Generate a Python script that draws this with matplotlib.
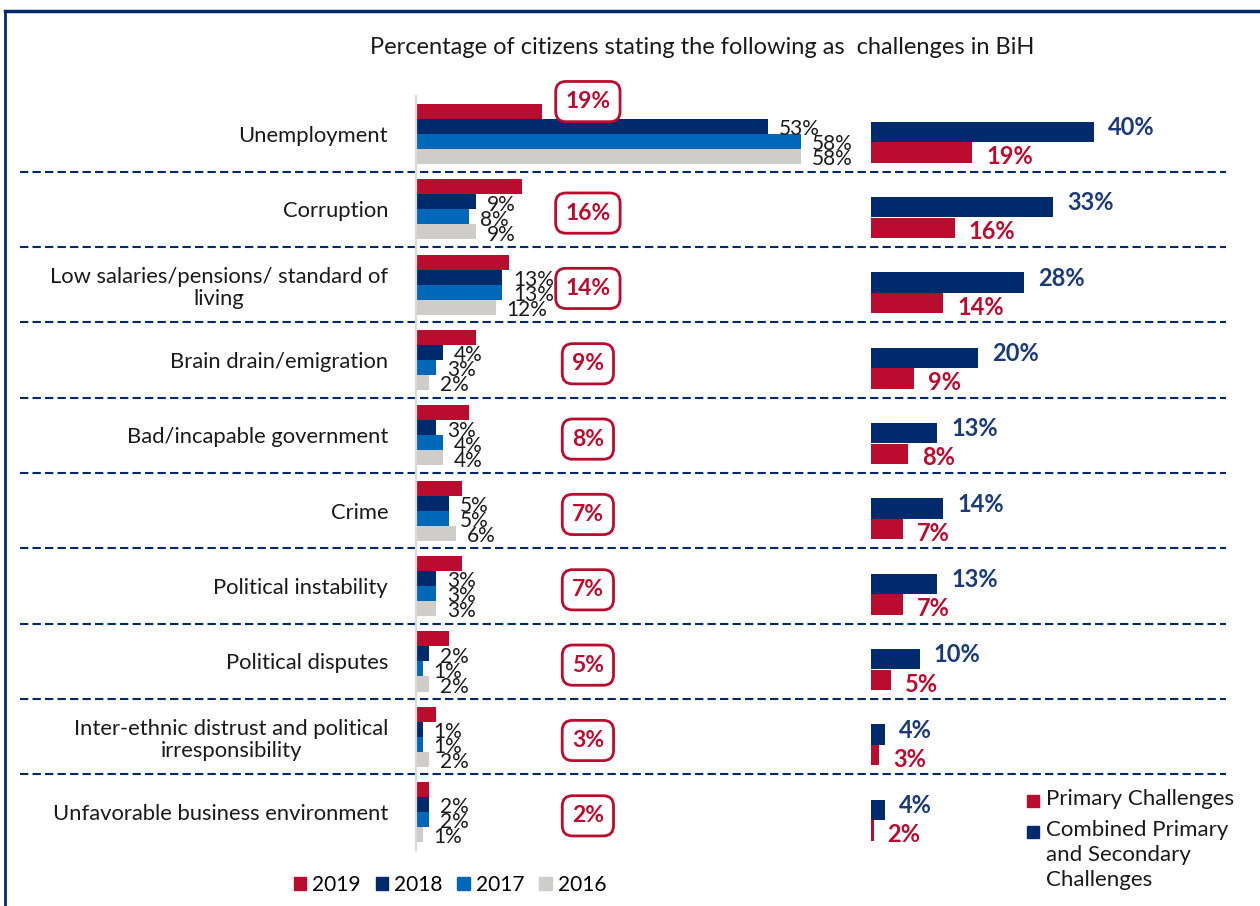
import matplotlib.pyplot as plt
from matplotlib.patches import Patch, Rectangle
from matplotlib.lines import Line2D
from matplotlib.transforms import blended_transform_factory

plt.rcParams['font.family'] = ['Lato', 'DejaVu Sans']

# Survey data (percent of citizens)
categories = [
    "Unemployment",
    "Corruption",
    "Low salaries/pensions/ standard of\nliving",
    "Brain drain/emigration",
    "Bad/incapable government",
    "Crime",
    "Political instability",
    "Political disputes",
    "Inter-ethnic distrust and political\nirresponsibility",
    "Unfavorable business environment",
]
years = ["2019", "2018", "2017", "2016"]
share_2019 = [19, 16, 14, 9, 8, 7, 7, 5, 3, 2]
share_2018 = [53, 9, 13, 4, 3, 5, 3, 2, 1, 2]
share_2017 = [58, 8, 13, 3, 4, 5, 3, 1, 1, 2]
share_2016 = [58, 9, 12, 2, 4, 6, 3, 2, 2, 1]

primary = [19, 16, 14, 9, 8, 7, 7, 5, 3, 2]
combined = [40, 33, 28, 20, 13, 14, 13, 10, 4, 4]

RED = '#ba0c2f'
NAVY = '#002a6c'
BLUE = '#0067b9'
GREY = '#cfcdc9'
TEXT = '#1a1a1a'
LABEL_NAVY = '#1b3a78'


def draw_year_bars(ax):
    """Grouped bars for each year, with the 2019 value in a rounded box."""
    series = [share_2019, share_2018, share_2017, share_2016]
    colors = [RED, NAVY, BLUE, GREY]
    offsets = [-0.3, -0.1, 0.1, 0.3]
    ypos = list(range(len(categories)))

    for k, (vals, color, off) in enumerate(zip(series, colors, offsets)):
        ax.barh([y + off for y in ypos], vals, height=0.2, color=color)
        if k == 0:
            continue
        for y, v in zip(ypos, vals):
            ax.annotate(f"{v}%", (v, y + off), xytext=(8, -2),
                        textcoords='offset points', ha='left', va='center',
                        fontsize=15, color=TEXT)

    # 2019 value highlighted in a box
    for y, v in zip(ypos, share_2019):
        ty = y - 0.43 if y == 0 else y + 0.05
        ax.text(25.9, ty, f"{v}%", ha='center', va='center', fontsize=16.5,
                fontweight='bold', color=RED,
                bbox=dict(boxstyle='round,pad=0.42,rounding_size=0.45',
                          fc='white', ec=RED, lw=2))

    ax.set_xlim(0, 66)
    ax.set_ylim(len(categories) - 0.5, -0.5)
    ax.set_yticks(ypos, categories)
    ax.tick_params(axis='y', length=0, pad=20, labelsize=15.8, labelcolor=TEXT)
    for lab in ax.get_yticklabels():
        lab.set_multialignment('center')
        lab.set_linespacing(1.15)
    ax.set_xticks([])
    for side in ['top', 'right', 'bottom']:
        ax.spines[side].set_visible(False)
    ax.spines['left'].set_color('#d9d9d9')
    ax.spines['left'].set_linewidth(1.6)
    ax.patch.set_visible(False)


def draw_challenge_bars(ax):
    """Combined vs primary challenge bars."""
    ypos = list(range(len(categories)))
    ax.barh([y - 0.03 for y in ypos], combined, height=0.27, color=NAVY)
    ax.barh([y + 0.245 for y in ypos], primary, height=0.27, color=RED)

    for y, v in zip(ypos, combined):
        ax.annotate(f"{v}%", (v, y - 0.03), xytext=(10, 3),
                    textcoords='offset points', ha='left', va='center',
                    fontsize=17, fontweight='bold', color=LABEL_NAVY)
    for y, v in zip(ypos, primary):
        ax.annotate(f"{v}%", (v, y + 0.245), xytext=(10, -3),
                    textcoords='offset points', ha='left', va='center',
                    fontsize=17, fontweight='bold', color=RED)

    ax.set_xlim(1.5, 60)
    ax.set_ylim(len(categories) - 0.5, -0.5)
    ax.set_xticks([])
    ax.set_yticks([])
    for side in ax.spines:
        ax.spines[side].set_visible(False)
    ax.patch.set_visible(False)


def main():
    fig = plt.figure(figsize=(12.6, 9.06), dpi=100)
    bottom, height = 0.0621, 0.8316
    ax_left = fig.add_axes([416 / 1260, bottom, 438 / 1260, height])
    ax_right = fig.add_axes([870.7 / 1260, bottom, 339 / 1260, height])

    draw_year_bars(ax_left)
    draw_challenge_bars(ax_right)

    # Dashed separators between categories, across both panels
    trans = blended_transform_factory(fig.transFigure, ax_left.transData)
    for i in range(len(categories) - 1):
        ax_left.plot([20 / 1260, 1226 / 1260], [i + 0.5, i + 0.5],
                     transform=trans, clip_on=False, color=NAVY, lw=1.5,
                     linestyle=(0, (4, 2)))

    fig.text(702 / 1260, 1 - 47 / 906,
             "Percentage of citizens stating the following as  challenges in BiH",
             ha='center', va='center', fontsize=17, color=TEXT)

    # Frame lines
    fig.add_artist(Line2D([5 / 1260, 1], [1 - 11 / 906] * 2,
                          transform=fig.transFigure, color=NAVY, lw=2.5))
    fig.add_artist(Line2D([5 / 1260] * 2, [0, 1 - 11 / 906],
                          transform=fig.transFigure, color=NAVY, lw=2))

    # Year legend
    handles = [Patch(color=c) for c in [RED, NAVY, BLUE, GREY]]
    fig.legend(handles, years, loc='center', ncol=4, frameon=False,
               bbox_to_anchor=(450 / 1260, 1 - 885 / 906), fontsize=15,
               handlelength=0.6, handleheight=0.6, handletextpad=0.3,
               columnspacing=0.7)

    # Challenge legend
    for (y, color, label) in [(801, RED, "Primary Challenges"),
                              (832, NAVY, "Combined Primary\nand Secondary\nChallenges")]:
        fig.add_artist(Rectangle((1027 / 1260, 1 - (y + 6) / 906),
                                 12 / 1260, 12 / 906, transform=fig.transFigure,
                                 color=color))
        fig.text(1046 / 1260, 1 - (y - 12) / 906, label, ha='left', va='top',
                 fontsize=16, color=TEXT, linespacing=1.3)

    fig.savefig('out.png', dpi=100)


if __name__ == "__main__":
    main()
